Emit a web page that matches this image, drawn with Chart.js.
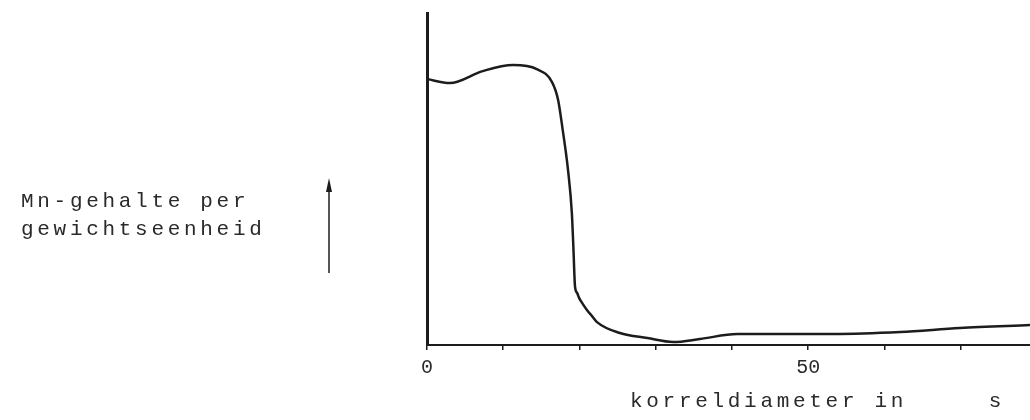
<!DOCTYPE html>
<html>
<head>
<meta charset="utf-8">
<script src="https://cdn.jsdelivr.net/npm/chart.js@4.4.1/dist/chart.umd.min.js"></script>
<style>
  html, body { margin: 0; padding: 0; background: #fff; }
  #wrap { width: 1030px; height: 420px; }
</style>
</head>
<body>
<div id="wrap"><canvas id="mnChart"></canvas></div>
<script>
// korreldiameter (x) and Mn-gehalte (y, arbitrary units)
const diameters = [0, 3.0, 7.3, 11.3, 14.4, 16.4, 17.2, 17.8, 18.5, 19.0, 19.2, 19.42, 19.69, 19.95, 20.34, 21.0, 21.65, 22.3, 25.3, 28.9, 32.3, 35.8, 40.7, 53.3, 62.1, 69.9, 79.1];
const mnContent = [80.1, 78.9, 82.5, 84.3, 83.1, 79.2, 73.8, 64.8, 52.7, 39.8, 29.5, 17.5, 15.7, 14.2, 12.7, 10.5, 8.7, 6.9, 3.6, 2.1, 0.9, 1.8, 3.3, 3.3, 3.9, 5.1, 6.0];
const labeledTicks = [0, 50];
const yLabelLines = ['Mn-gehalte per', 'gewichtseenheid'];
const xLabel = 'korreldiameter in     s';

const ink = '#1c1c1c';
const typeFont = '"Liberation Mono", "DejaVu Sans Mono", monospace';

const textPlugin = {
  id: 'typedLabels',
  afterDraw(chart) {
    const ctx = chart.ctx;
    ctx.save();
    ctx.fillStyle = '#2a2a2a';
    ctx.font = '21px ' + typeFont;
    ctx.letterSpacing = '3.7px';
    ctx.textBaseline = 'alphabetic';
    ctx.textAlign = 'left';
    ctx.fillText(yLabelLines[0], 21, 207);
    ctx.fillText(yLabelLines[1], 21, 235);
    ctx.fillText(xLabel, 630, 407);

    // arrow next to the y label
    ctx.strokeStyle = ink;
    ctx.lineWidth = 1.5;
    ctx.beginPath();
    ctx.moveTo(329, 273);
    ctx.lineTo(329, 184);
    ctx.stroke();
    ctx.fillStyle = ink;
    ctx.beginPath();
    ctx.moveTo(329, 178);
    ctx.lineTo(326, 192);
    ctx.lineTo(332, 192);
    ctx.closePath();
    ctx.fill();
    ctx.restore();
  }
};

new Chart(document.getElementById('mnChart'), {
  type: 'line',
  data: {
    datasets: [{
      data: diameters.map((d, i) => ({ x: d, y: mnContent[i] })),
      borderColor: ink,
      borderWidth: 2.5,
      pointRadius: 0,
      fill: false,
      cubicInterpolationMode: 'monotone'
    }]
  },
  options: {
    responsive: true,
    maintainAspectRatio: false,
    animation: false,
    layout: { padding: { left: 427, top: 13, right: 0, bottom: 0 } },
    plugins: {
      legend: { display: false },
      tooltip: { enabled: false }
    },
    scales: {
      x: {
        type: 'linear',
        min: 0,
        max: 79.1,
        afterBuildTicks: s => { s.ticks = s.ticks.filter(t => t.value % 10 === 0); },
        afterFit: s => { s.height = 75; },
        border: { display: true, color: ink, width: 2 },
        grid: { drawOnChartArea: false, drawTicks: true, tickLength: 5, color: ink, lineWidth: 1.5 },
        ticks: {
          stepSize: 10,
          maxRotation: 0,
          autoSkip: false,
          padding: 6,
          color: '#2a2a2a',
          font: { family: typeFont, size: 20 },
          callback: v => labeledTicks.includes(v) ? String(v) : ''
        }
      },
      y: {
        min: 0,
        max: 100,
        afterFit: s => { s.width = 0; },
        border: { display: true, color: ink, width: 3 },
        grid: { display: false },
        ticks: { display: false }
      }
    }
  },
  plugins: [textPlugin]
});
</script>
</body>
</html>
